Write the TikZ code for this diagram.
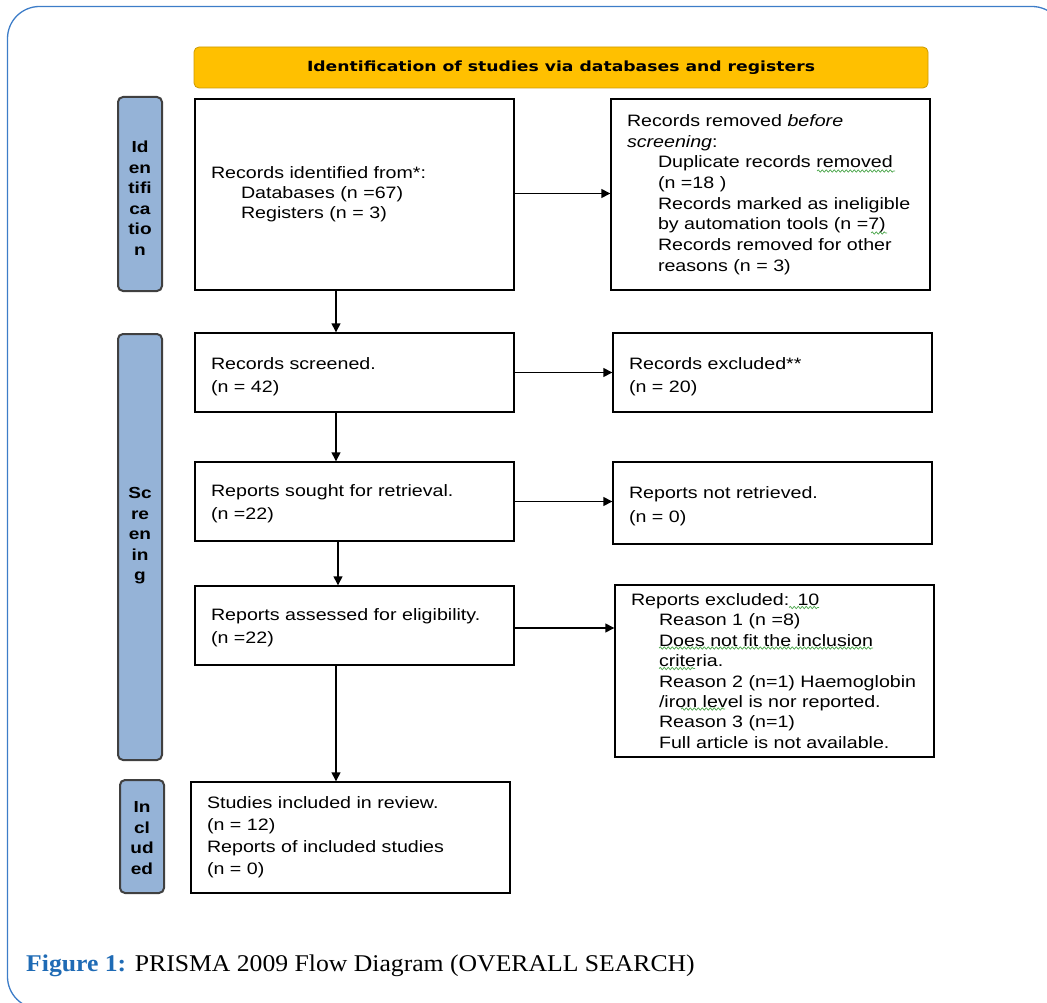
\documentclass[tikz,border=0pt]{standalone}
\usepackage{fontspec}
\setmainfont[FakeStretch=1.19]{Liberation Sans}
\newfontfamily\capfont[FakeStretch=1.07]{Liberation Serif}
\newfontfamily\hdrfont[FakeStretch=1.23]{DejaVu Sans}
\usetikzlibrary{arrows.meta,calc,decorations.pathmorphing}
\definecolor{frameblue}{HTML}{3D7DC8}
\definecolor{hdrorange}{HTML}{FFC000}
\definecolor{sideblue}{HTML}{95B3D7}
\definecolor{capblue}{HTML}{1F6BB5}
\definecolor{spellgreen}{HTML}{4CA64C}
\newcommand{\tstrut}[1]{\rule{0pt}{#1}}
\tikzset{
  flowbox/.style={draw=black, line width=1.4pt, rectangle, minimum width=319pt,
    text width=287pt, inner xsep=16pt, align=left, font=\fontsize{16.5}{20}\selectfont},
  twoline/.style={font=\fontsize{16.5}{23}\selectfont},
  sidebox/.style={draw=black!75, line width=2pt, rounded corners=5pt, fill=sideblue,
    minimum width=44pt},
  sidetext/.style={align=center, font=\bfseries\fontsize{16}{20.5}\selectfont},
  flowarrow/.style={line width=1.4pt, -{Triangle[length=9pt,width=9pt]}},
  squiggle/.style={spellgreen, line width=0.7pt, decorate,
    decoration={snake, amplitude=1.2pt, segment length=4pt}},
}
\begin{document}
\begin{tikzpicture}[x=1pt,y=-1pt]
\useasboundingbox (0,0) rectangle (1047,1003);
% outer frame
\draw[frameblue, line width=1.3pt, rounded corners=32pt] (7.5,6.5) rectangle (1064,1008.6);
% header
\node[draw=hdrorange!80!black, line width=0.8pt, fill=hdrorange, rounded corners=5pt,
  minimum width=734pt, minimum height=41pt, font=\hdrfont\bfseries\fontsize{14}{16}\selectfont]
  (hdr) at (561,67.5) {Identification of studies via databases and registers};
% side labels
\node[sidebox, minimum height=194pt] (sid) at (140,194) {};
\node[sidetext] (sidt) at (140,198) {Id\\en\\tifi\\ca\\tio\\n};
\node[sidebox, minimum height=426pt] (ssc) at (140,547) {};
\node[sidetext] (ssct) at (140,536) {Sc\\re\\en\\in\\g};
\node[sidebox, minimum height=113pt] (sin) at (142,836.5) {};
\node[sidetext] (sint) at (142,838) {In\\cl\\ud\\ed};
% left column
\node[flowbox, minimum height=191pt] (A) at (354.5,194.5)
  {Records identified from*:\\\hspace*{30pt}Databases (n =67)\\\hspace*{30pt}Registers (n = 3)};
\node[flowbox, twoline, minimum height=79pt] (B) at (354.5,372.5)
  {\tstrut{21pt}Records screened.\\(n = 42)};
\node[flowbox, twoline, minimum height=79pt] (C) at (354.5,501.5)
  {\tstrut{16pt}Reports sought for retrieval.\\(n =22)};
\node[flowbox, twoline, minimum height=79pt] (D) at (354.5,625.5)
  {\tstrut{16pt}Reports assessed for eligibility.\\(n =22)};
\node[flowbox, minimum height=111pt, font=\fontsize{16.5}{22}\selectfont] (E) at (350.5,837.5)
  {Studies included in review.\\(n = 12)\\Reports of included studies\\(n = 0)};
% right column
\node[flowbox, minimum height=191pt, font=\fontsize{16.5}{20.7}\selectfont] (F) at (770.5,194.5)
  {Records removed \textit{before}\\\textit{screening}:\\
   \hspace*{31pt}Duplicate records removed\\\hspace*{31pt}(n =18 )\\
   \hspace*{31pt}Records marked as ineligible\\\hspace*{31pt}by automation tools (n =7)\\
   \hspace*{31pt}Records removed for other\\\hspace*{31pt}reasons (n = 3)};
\node[flowbox, twoline, minimum height=79pt] (G) at (772.5,372.5)
  {\tstrut{20pt}Records excluded**\\(n = 20)};
\node[flowbox, minimum height=82pt, font=\fontsize{16.5}{24}\selectfont] (H) at (772.5,503)
  {\tstrut{18pt}Reports not retrieved.\\(n = 0)};
\node[flowbox, minimum height=172pt, font=\fontsize{16.5}{20.4}\selectfont] (I) at (774.5,671)
  {Reports excluded: 10\\
   \hspace*{28pt}Reason 1 (n =8)\\\hspace*{28pt}Does not fit the inclusion\\\hspace*{28pt}criteria.\\
   \hspace*{28pt}Reason 2 (n=1) Haemoglobin\\\hspace*{28pt}/iron level is nor reported.\\
   \hspace*{28pt}Reason 3 (n=1)\\\hspace*{28pt}Full article is not available.};
% connectors
\coordinate (vx) at (336,0);
\coordinate (vx2) at (338,0);
\draw[flowarrow] (A.south -| vx) -- (B.north -| vx);
\draw[flowarrow] (B.south -| vx) -- (C.north -| vx);
\draw[flowarrow] (C.south -| vx2) -- (D.north -| vx2);
\draw[flowarrow] (D.south -| vx) -- (E.north -| vx);
\draw[flowarrow] ($(A.east)+(0,-1)$) -- ($(A.east -| F.west)+(0,-1)$);
\draw[flowarrow] (B.east) -- (B.east -| G.west);
\draw[flowarrow] (C.east) -- (C.east -| H.west);
\draw[flowarrow] ($(D.east)+(0,2.5)$) -- ($(D.east -| I.west)+(0,2.5)$);
% spell-check underlines
\draw[squiggle] (817,171) -- (895,171);
\draw[squiggle] (871,233) -- (887,233);
\draw[squiggle] (789,607.5) -- (819,607.5);
\draw[squiggle] (659,648) -- (873,648);
\draw[squiggle] (659,668.5) -- (695,668.5);
\draw[squiggle] (681,709) -- (725,709);
% caption
\node[anchor=west, inner sep=0pt, font=\capfont\fontsize{24}{28}\selectfont] (cap) at (26,966)
  {\textcolor{capblue}{\textbf{Figure 1:}} PRISMA 2009 Flow Diagram (OVERALL SEARCH)};
\end{tikzpicture}
\end{document}
